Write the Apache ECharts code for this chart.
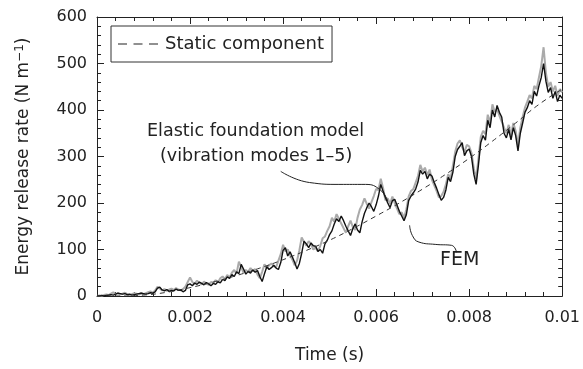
<!DOCTYPE html>
<html>
<head>
<meta charset="utf-8">
<script src="https://cdn.jsdelivr.net/npm/echarts@6/dist/echarts.min.js"></script>
<style>
html,body{margin:0;padding:0;background:#fff;}
#chart{width:583px;height:369px;}
</style>
</head>
<body>
<div id="chart"></div>
<script>
// sampling step of the time grid (s)
var STEP = 0.00005;

// Static component (dashed)
var staticTime = [0, 0.0005, 0.001, 0.0015, 0.002, 0.0025, 0.003, 0.0035, 0.004, 0.0045, 0.005, 0.0055, 0.006, 0.0065, 0.007, 0.0075, 0.008, 0.0085, 0.009, 0.0095, 0.01];
var staticValue = [0, 0, 2, 8, 18, 30, 44, 60, 78, 98, 120, 145, 172, 200, 230, 262, 296, 333, 372, 412, 445];

// Elastic foundation model (black)
var modelValue = [
  0,0,1,0,1,2,3,2,4,6,5,4,5,3,4,2,3,4,5,6,5,
  4,5,7,6,9,17,19,13,11,14,10,12,11,15,12,13,9,12,24,26,
  22,28,25,30,27,24,29,26,22,27,25,31,28,36,33,41,38,46,42,52,48,68,58,47,53,49,56,51,55,42,31,48,63,57,61,66,60,57,72,98,
  104,86,95,84,72,58,70,92,118,112,104,114,108,107,96,100,92,112,120,132,140,155,166,160,172,162,150,140,130,145,155,142,136,160,178,190,200,192,182,196,
  215,240,225,212,200,190,205,208,195,182,172,162,175,205,215,222,230,245,270,262,268,252,262,258,244,232,218,206,212,228,255,246,266,300,315,322,330,302,312,316,
  300,262,240,282,330,345,335,378,362,400,385,410,395,385,350,340,358,336,362,345,312,350,372,395,405,420,412,440,430,452,470,500,462,438,448,425,440,418,432,425
];

// FEM (grey)
var femValue = [
  0,1,0,2,3,2,5,8,4,6,3,5,7,4,2,4,6,5,3,7,4,
  6,8,10,7,12,20,16,12,15,11,14,16,13,17,14,12,15,20,30,40,
  30,26,33,28,25,31,27,24,30,28,34,29,38,42,36,45,40,50,56,48,74,62,50,56,52,60,54,58,46,38,52,68,60,66,70,64,62,76,90,110,
  96,100,88,78,66,76,98,126,116,108,118,112,100,104,96,108,124,128,140,150,168,160,176,166,156,146,136,150,162,148,142,168,186,196,210,198,188,202,215,230,
  228,252,232,206,210,198,214,200,188,176,180,168,186,214,226,230,244,258,282,268,276,260,272,250,238,226,212,215,224,240,262,252,280,310,328,335,320,310,325,322,
  308,275,252,295,342,355,348,390,372,412,396,402,388,375,362,350,368,345,372,355,325,362,385,405,418,432,425,452,445,470,495,535,480,450,460,440,452,430,445,438
];

// Annotation leader lines (data coordinates)
var leaderModelTime = [0.00395, 0.00457, 0.00520, 0.00577, 0.00609, 0.00625];
var leaderModelValue = [268, 244, 240, 240, 228, 204];
var leaderFemTime = [0.00672, 0.00678, 0.00692, 0.00727, 0.00762, 0.00773];
var leaderFemValue = [152, 130, 116, 111, 109, 94];

// Axis ticks
var xTicks = [0, 0.002, 0.004, 0.006, 0.008, 0.01];
var yTicks = [0, 100, 200, 300, 400, 500, 600];

function pairs(ts, vs) { return vs.map(function (v, i) { return [ts[i], v]; }); }
function grid(vs) { return vs.map(function (v, i) { return [+(i * STEP).toFixed(6), v]; }); }

var FONT = 'DejaVu Sans';
var chart = echarts.init(document.getElementById('chart'), null, {renderer: 'canvas'});

var xBase = {
  type: 'value', min: xTicks[0], max: xTicks[xTicks.length - 1], interval: 0.002,
  axisLine: {show: true, onZero: false, lineStyle: {color: '#222', width: 1}},
  axisTick: {show: true, inside: true, length: 7, lineStyle: {color: '#222'}},
  minorTick: {show: true, splitNumber: 5, length: 4, lineStyle: {color: '#222'}},
  splitLine: {show: false}
};
var yBase = {
  type: 'value', min: yTicks[0], max: yTicks[yTicks.length - 1], interval: 100,
  axisLine: {show: true, onZero: false, lineStyle: {color: '#222', width: 1}},
  axisTick: {show: true, inside: true, length: 7, lineStyle: {color: '#222'}},
  minorTick: {show: true, splitNumber: 5, length: 4, lineStyle: {color: '#222'}},
  splitLine: {show: false}
};

chart.setOption({
  animation: false,
  backgroundColor: '#fff',
  textStyle: {fontFamily: FONT},
  grid: {left: 97, right: 13, top: 17, bottom: 72, containLabel: false},
  legend: {
    data: [{name: 'Static component', icon: 'path://M0,0h9v1h-9zM15.5,0h9v1h-9zM31,0h9v1h-9z'}],
    left: 111, top: 26,
    padding: [9, 8, 9, 7],
    itemWidth: 40, itemHeight: 1,
    itemGap: 8,
    borderColor: '#333', borderWidth: 1, borderRadius: 0,
    itemStyle: {color: '#222'},
    textStyle: {fontFamily: FONT, fontSize: 18, color: '#222', padding: [0, 0, 0, 2]}
  },
  xAxis: [
    Object.assign({}, xBase, {
      position: 'bottom',
      name: 'Time (s)', nameLocation: 'middle', nameGap: 51,
      nameTextStyle: {fontFamily: FONT, fontSize: 17, color: '#222'},
      axisLabel: {show: true, margin: 14, fontFamily: FONT, fontSize: 16, color: '#222',
        formatter: function (v) { return v === 0 ? '0' : (Math.abs(v - 0.01) < 1e-9 ? '0.01' : v.toFixed(3)); }}
    }),
    Object.assign({}, xBase, {position: 'top', axisLabel: {show: false}})
  ],
  yAxis: [
    Object.assign({}, yBase, {
      position: 'left',
      name: 'Energy release rate (N m{sup|−1})', nameLocation: 'middle', nameGap: 63,
      nameTextStyle: {fontFamily: FONT, fontSize: 17, color: '#222',
        rich: {sup: {fontFamily: FONT, fontSize: 12, color: '#222', verticalAlign: 'top', padding: [0, 0, 8, 0]}}},
      axisLabel: {show: true, margin: 10, fontFamily: FONT, fontSize: 16, color: '#222'}
    }),
    Object.assign({}, yBase, {position: 'right', axisLabel: {show: false}})
  ],
  series: [
    {name: 'FEM', type: 'line', data: grid(femValue), symbol: 'none', silent: true,
      lineStyle: {color: '#aaaaaa', width: 2}, z: 2},
    {name: 'Elastic foundation model', type: 'line', data: grid(modelValue), symbol: 'none', silent: true,
      lineStyle: {color: '#111', width: 1.4}, z: 3},
    {name: 'Static component', type: 'line', data: pairs(staticTime, staticValue), symbol: 'none', smooth: true, silent: true,
      itemStyle: {color: '#333'},
      lineStyle: {color: '#333', width: 1, type: [5, 4]}, z: 4},
    {name: 'leader1', type: 'line', data: pairs(leaderModelTime, leaderModelValue), symbol: 'none', smooth: 0.5, silent: true,
      lineStyle: {color: '#222', width: 1}, z: 5},
    {name: 'leader2', type: 'line', data: pairs(leaderFemTime, leaderFemValue), symbol: 'none', smooth: 0.5, silent: true,
      lineStyle: {color: '#222', width: 1}, z: 5}
  ],
  graphic: [
    {type: 'text', left: 147, top: 122, style: {text: 'Elastic foundation model', font: '17.5px "DejaVu Sans"', fill: '#222'}},
    {type: 'text', left: 160, top: 147, style: {text: '(vibration modes 1–5)', font: '17.5px "DejaVu Sans"', fill: '#222'}},
    {type: 'text', left: 440, top: 251, style: {text: 'FEM', font: '19px "DejaVu Sans"', fill: '#222'}}
  ]
});
</script>
</body>
</html>
